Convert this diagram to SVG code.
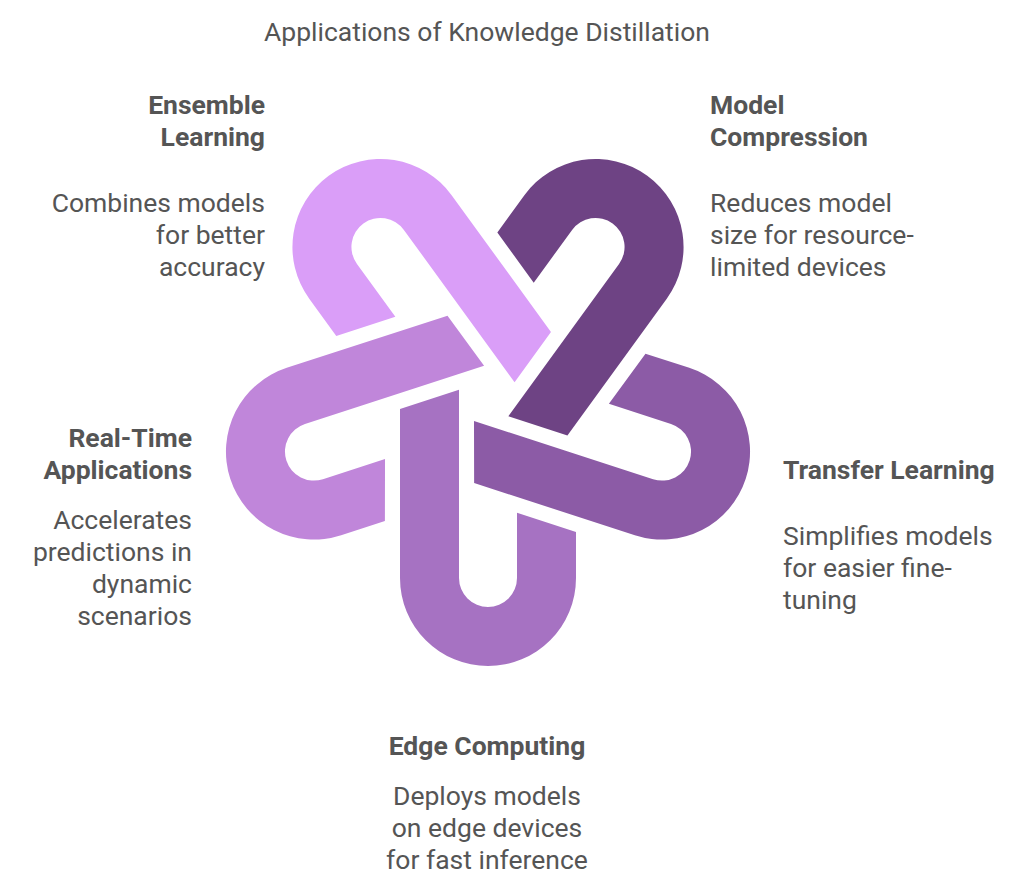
<svg xmlns="http://www.w3.org/2000/svg" xmlns:xlink="http://www.w3.org/1999/xlink" width="1024" height="894" viewBox="0 0 1024 894">
<style>
text{font-family:Roboto,"Liberation Sans",sans-serif;font-size:26.5px;fill:#555}
.h{font-weight:bold;fill:#555}
.r{text-anchor:end}
.m{text-anchor:middle}
</style>
<defs>
<path id="hook" d="M -88 14 L -88 183 A 87 87 0 0 0 88 183 L 88 137 L 29 117.7 L 29 183 A 29 29 0 0 1 -29 183 L -29 -5.3 Z"/>
</defs>
<rect width="1024" height="894" fill="#fff"/>
<text class="m" x="487" y="41">Applications of Knowledge Distillation</text>
<g transform="translate(488,395)">
<g id="edge-computing"><use xlink:href="#hook" fill="#A672C2"/></g>
<g id="transfer-learning"><use xlink:href="#hook" transform="rotate(-72)" fill="#8C5BA6"/></g>
<g id="model-compression"><use xlink:href="#hook" transform="rotate(-144)" fill="#6E4384"/></g>
<g id="ensemble-learning"><use xlink:href="#hook" transform="rotate(144)" fill="#DA9EF8"/></g>
<g id="real-time-applications"><use xlink:href="#hook" transform="rotate(72)" fill="#C086DA"/></g>
</g>
<g id="labels">
<text class="h r" x="265" y="114">Ensemble</text>
<text class="h r" x="265" y="146">Learning</text>
<text class="r" x="265" y="212">Combines models</text>
<text class="r" x="265" y="244">for better</text>
<text class="r" x="265" y="276">accuracy</text>
<text class="h" x="710" y="114">Model</text>
<text class="h" x="710" y="146">Compression</text>
<text x="710" y="212">Reduces model</text>
<text x="710" y="244">size for resource-</text>
<text x="710" y="276">limited devices</text>
<text class="h" x="783" y="479">Transfer Learning</text>
<text x="783" y="545">Simplifies models</text>
<text x="783" y="577">for easier fine-</text>
<text x="783" y="609">tuning</text>
<text class="h r" x="192" y="447">Real-Time</text>
<text class="h r" x="192" y="479">Applications</text>
<text class="r" x="192" y="529">Accelerates</text>
<text class="r" x="192" y="561">predictions in</text>
<text class="r" x="192" y="593">dynamic</text>
<text class="r" x="192" y="625">scenarios</text>
<text class="h m" x="487" y="755">Edge Computing</text>
<text class="m" x="487" y="805">Deploys models</text>
<text class="m" x="487" y="837">on edge devices</text>
<text class="m" x="487" y="869">for fast inference</text>
</g>
</svg>
